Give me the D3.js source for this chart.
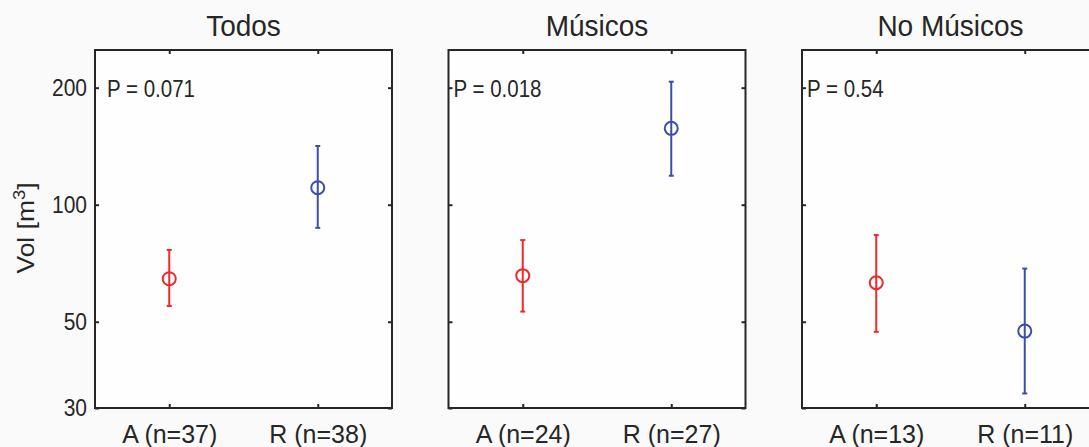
<!DOCTYPE html>
<html>
<head>
<meta charset="utf-8">
<script src="https://cdn.jsdelivr.net/npm/d3@7"></script>
<style>
  body { margin: 0; background: #fafafa; }
  svg { display: block; font-family: "Liberation Sans", Arial, sans-serif; }
</style>
</head>
<body>
<div id="chart"></div>
<script>
const panelTitles = ["Todos", "Músicos", "No Músicos"];
const groups = ["A", "R"];
const nCounts = [[37, 38], [24, 27], [13, 11]];
const means = [[64.5, 110.6], [65.7, 157.2], [63.0, 47.3]];
const lower = [[54.9, 87.2], [53.1, 118.7], [47.1, 32.7]];
const upper = [[76.5, 141.6], [81.1, 207.2], [83.6, 68.5]];
const pValues = ["0.071", "0.018", "0.54"];
const yTicks = [30, 50, 100, 200];

const width = 1089, height = 447;
const panelW = 297, plotTop = 50, plotBottom = 408;
const colors = ["#ee2a2a", "#3b50a5"];
const axisColor = "#262626";

// the source image is a bit taller than wide, so text gets stretched vertically
function stretch(sel, k) {
    sel.each(function () {
        const t = d3.select(this);
        const tx = +t.attr("x") || 0, ty = +t.attr("y") || 0;
        t.attr("x", null).attr("y", null)
            .attr("transform", `translate(${tx},${ty}) scale(1,${k})`);
    });
}

const svg = d3.select("#chart")
    .append("svg")
    .attr("width", width)
    .attr("height", height);

const y = d3.scaleLog()
    .domain([30, 250])
    .range([plotBottom, plotTop]);

const x = d3.scalePoint()
    .domain(groups)
    .range([0, panelW])
    .padding(0.5);

panelTitles.forEach((title, i) => {
    const left = 95 + i * 353.5;
    const g = svg.append("g")
        .attr("transform", `translate(${left},0)`);

    g.append("rect")
        .attr("x", 0)
        .attr("y", plotTop)
        .attr("width", panelW)
        .attr("height", plotBottom - plotTop)
        .attr("fill", "#fefefe");

    // left axis, labels only on first panel
    g.append("g")
        .attr("class", "yax")
        .call(d3.axisLeft(y)
            .tickValues(yTicks)
            .tickSize(-4)
            .tickPadding(8)
            .tickFormat(i === 0 ? d3.format("d") : () => ""));

    g.append("g")
        .attr("transform", `translate(${panelW},0)`)
        .call(d3.axisRight(y).tickValues(yTicks).tickSize(-4).tickFormat(() => ""));

    g.append("g")
        .attr("class", "xax")
        .attr("transform", `translate(0,${plotBottom})`)
        .call(d3.axisBottom(x).tickSize(-4).tickPadding(16)
            .tickFormat((d, j) => `${d} (n=${nCounts[i][j]})`));

    g.append("g")
        .attr("transform", `translate(0,${plotTop})`)
        .call(d3.axisTop(x).tickSize(-4).tickFormat(() => ""));

    g.selectAll(".domain").remove();
    g.selectAll(".tick line").attr("stroke", axisColor).attr("stroke-width", 2);
    g.selectAll(".tick text").attr("fill", "#262626");
    g.selectAll(".yax .tick text").style("font-size", "21px").call(stretch, 1.12);
    g.selectAll(".xax .tick text").style("font-size", "25px").call(stretch, 1.05);

    g.append("rect")
        .attr("x", 0)
        .attr("y", plotTop)
        .attr("width", panelW)
        .attr("height", plotBottom - plotTop)
        .attr("fill", "none")
        .attr("stroke", axisColor)
        .attr("stroke-width", 2);

    g.append("text")
        .attr("x", panelW / 2)
        .attr("y", 36)
        .attr("text-anchor", "middle")
        .attr("fill", "#262626")
        .style("font-size", "28px")
        .text(title)
        .call(stretch, 1.06);

    g.append("text")
        .attr("x", i === 0 ? 12 : 5)
        .attr("y", y(200) + 9)
        .attr("fill", "#262626")
        .style("font-size", "20.5px")
        .text(`P = ${pValues[i]}`)
        .call(stretch, 1.15);

    // error bars
    groups.forEach((grp, j) => {
        const cx = x(grp);
        const eg = g.append("g")
            .attr("stroke", colors[j])
            .attr("stroke-width", 2)
            .attr("fill", "none");
        eg.append("line")
            .attr("x1", cx).attr("x2", cx)
            .attr("y1", y(lower[i][j])).attr("y2", y(upper[i][j]));
        [lower[i][j], upper[i][j]].forEach(v => {
            eg.append("line")
                .attr("x1", cx - 2.5).attr("x2", cx + 2.5)
                .attr("y1", y(v)).attr("y2", y(v));
        });
        eg.append("circle")
            .attr("cx", cx)
            .attr("cy", y(means[i][j]))
            .attr("r", 6.5);
    });
});

// y label (rotated, so the stretch runs along the text)
const yl = svg.append("text")
    .attr("transform", "translate(34,228) rotate(-90) scale(1.15,1)")
    .attr("text-anchor", "middle")
    .attr("fill", "#262626")
    .style("font-size", "23px");
yl.append("tspan").text("Vol [m");
yl.append("tspan").attr("baseline-shift", "super").style("font-size", "16px").text("3");
yl.append("tspan").text("]");
</script>
</body>
</html>
